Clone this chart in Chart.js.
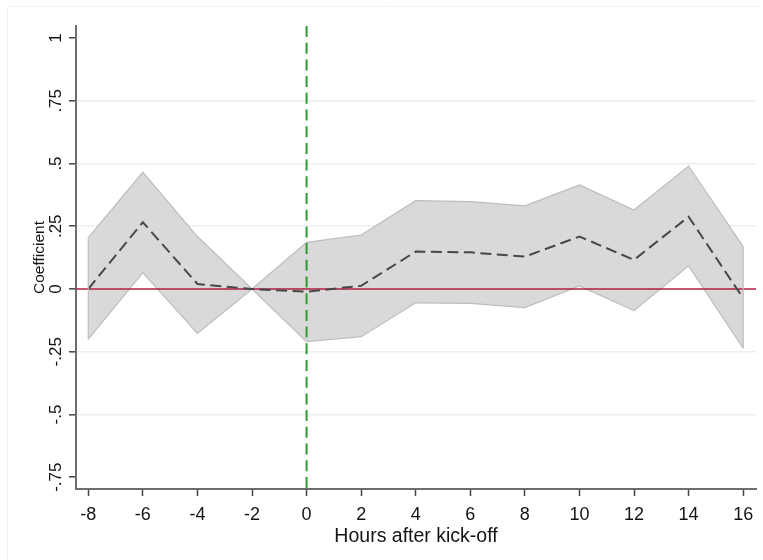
<!DOCTYPE html>
<html>
<head>
<meta charset="utf-8">
<script src="https://cdn.jsdelivr.net/npm/chart.js@4.4.1/dist/chart.umd.min.js"></script>
<style>
  html, body { margin: 0; padding: 0; background: #ffffff; }
  #wrap { width: 763px; height: 560px; }
</style>
</head>
<body>
<div id="wrap"><canvas id="c" width="763" height="560"></canvas></div>
<script>
// ---- data ----
const hours = [-8, -6, -4, -2, 0, 2, 4, 6, 8, 10, 12, 14, 16];
const coef  = [0.000, 0.266, 0.020, 0.000, -0.011, 0.013, 0.149, 0.146, 0.129, 0.209, 0.116, 0.288, -0.037];
const upper = [0.205, 0.465, 0.209, 0.000, 0.186, 0.215, 0.352, 0.348, 0.331, 0.415, 0.315, 0.490, 0.169];
const lower = [-0.200, 0.065, -0.177, 0.000, -0.210, -0.190, -0.055, -0.057, -0.074, 0.012, -0.086, 0.092, -0.236];

const xTicks = [-8, -6, -4, -2, 0, 2, 4, 6, 8, 10, 12, 14, 16];
const xTickLabels = ['-8', '-6', '-4', '-2', '0', '2', '4', '6', '8', '10', '12', '14', '16'];
const yTicks = [-0.75, -0.5, -0.25, 0, 0.25, 0.5, 0.75, 1];
const yTickLabels = ['-.75', '-.5', '-.25', '0', '.25', '.5', '.75', '1'];

const xTitle = 'Hours after kick-off';
const yTitle = 'Coefficient';
const zeroLine = 0;
const kickoff = 0;

// ---- helpers ----
const pts = (ys) => hours.map((h, i) => ({ x: h, y: ys[i] }));
const FONT = '"Liberation Sans", Arial, Helvetica, sans-serif';

const decor = {
  id: 'decor',
  beforeDraw(chart) {
    const ctx = chart.ctx;
    ctx.save();
    ctx.strokeStyle = '#edf2f5';
    ctx.lineWidth = 1;
    ctx.beginPath();
    ctx.moveTo(7.5, 560); ctx.lineTo(7.5, 6.5); ctx.lineTo(761, 6.5);
    ctx.stroke();
    ctx.restore();
  },
  beforeDatasetDraw(chart, args) {
    if (args.meta.dataset && chart.data.datasets[args.index].label === 'Coefficient') {
      const ctx = chart.ctx, y = chart.scales.y, a = chart.chartArea;
      const py = y.getPixelForValue(zeroLine);
      ctx.save();
      ctx.strokeStyle = 'rgba(178,18,58,0.95)';
      ctx.lineWidth = 1.6;
      ctx.beginPath();
      ctx.moveTo(a.left, py); ctx.lineTo(a.right, py);
      ctx.stroke();
      ctx.restore();
    }
  },
  afterDatasetsDraw(chart) {
    const ctx = chart.ctx, xs = chart.scales.x, ys = chart.scales.y, a = chart.chartArea;
    // band end edges
    ctx.save();
    ctx.strokeStyle = '#bdbdbd';
    ctx.lineWidth = 1.2;
    [0, hours.length - 1].forEach(i => {
      const px = xs.getPixelForValue(hours[i]);
      ctx.beginPath();
      ctx.moveTo(px, ys.getPixelForValue(upper[i]));
      ctx.lineTo(px, ys.getPixelForValue(lower[i]));
      ctx.stroke();
    });
    ctx.restore();
    // kick-off vertical dashed line
    const px = xs.getPixelForValue(kickoff);
    ctx.save();
    ctx.strokeStyle = '#2a9d2f';
    ctx.lineWidth = 2;
    ctx.setLineDash([11, 5.7]);
    ctx.beginPath();
    ctx.moveTo(px, a.top); ctx.lineTo(px, a.bottom);
    ctx.stroke();
    ctx.restore();
  },
  afterDraw(chart) {
    const ctx = chart.ctx, xs = chart.scales.x, ys = chart.scales.y, a = chart.chartArea;
    ctx.save();
    ctx.fillStyle = '#141414';
    // y tick labels, rotated
    ctx.font = '17px ' + FONT;
    ctx.textAlign = 'center';
    ctx.textBaseline = 'alphabetic';
    yTicks.forEach((v, i) => {
      const py = ys.getPixelForValue(v);
      ctx.save();
      ctx.translate(60.5, py);
      ctx.rotate(-Math.PI / 2);
      ctx.fillText(yTickLabels[i], 0, 0);
      ctx.restore();
    });
    // y title
    ctx.font = '15.5px ' + FONT;
    ctx.save();
    ctx.translate(43.5, (a.top + a.bottom) / 2);
    ctx.rotate(-Math.PI / 2);
    ctx.fillText(yTitle, 0, 0);
    ctx.restore();
    // x tick labels
    ctx.font = '18px ' + FONT;
    ctx.textBaseline = 'middle';
    xTicks.forEach((v, i) => {
      ctx.fillText(xTickLabels[i], xs.getPixelForValue(v), 515);
    });
    // x title
    ctx.font = '19.5px ' + FONT;
    ctx.fillText(xTitle, (a.left + a.right) / 2, 537);
    ctx.restore();
  }
};

new Chart(document.getElementById('c'), {
  type: 'line',
  data: {
    datasets: [
      {
        label: 'Coefficient',
        data: pts(coef),
        borderColor: '#474747',
        borderWidth: 2,
        borderDash: [11, 5.5],
        pointRadius: 0,
        fill: false,
        tension: 0,
        order: 0
      },
      {
        label: 'upper',
        data: pts(upper),
        borderColor: '#bdbdbd',
        borderWidth: 1.2,
        backgroundColor: '#d9d9d9',
        pointRadius: 0,
        fill: '+1',
        tension: 0,
        order: 2
      },
      {
        label: 'lower',
        data: pts(lower),
        borderColor: '#bdbdbd',
        borderWidth: 1.2,
        pointRadius: 0,
        fill: false,
        tension: 0,
        order: 2
      }
    ]
  },
  options: {
    responsive: false,
    animation: false,
    devicePixelRatio: 1,
    layout: { padding: { top: 26, right: 7, left: 0, bottom: 0 } },
    plugins: {
      legend: { display: false },
      tooltip: { enabled: false },
      filler: { drawTime: 'beforeDatasetsDraw' }
    },
    scales: {
      x: {
        type: 'linear',
        min: -8.45,
        max: 16.47,
        afterBuildTicks: (s) => { s.ticks = xTicks.map(v => ({ value: v })); },
        afterFit: (s) => { s.height = 71; },
        ticks: { display: false },
        grid: { display: true, drawOnChartArea: false, drawTicks: true, tickLength: 7, tickColor: '#444', tickWidth: 1.5 },
        border: { display: true, color: '#6e6e6e', width: 2 }
      },
      y: {
        type: 'linear',
        min: -0.797,
        max: 1.048,
        afterBuildTicks: (s) => { s.ticks = yTicks.map(v => ({ value: v })); },
        afterFit: (s) => { s.width = 76; },
        ticks: { display: false },
        grid: {
          display: true,
          drawTicks: true,
          tickLength: 7,
          tickColor: '#444',
          tickWidth: 1.5,
          lineWidth: 1.6,
          color: (c) => {
            const v = c.tick ? c.tick.value : null;
            if (v === 1 || v === -0.75 || v === 0) return 'rgba(0,0,0,0)';
            return '#e9f0f3';
          }
        },
        border: { display: true, color: '#6e6e6e', width: 2 }
      }
    }
  },
  plugins: [decor]
});
</script>
</body>
</html>
